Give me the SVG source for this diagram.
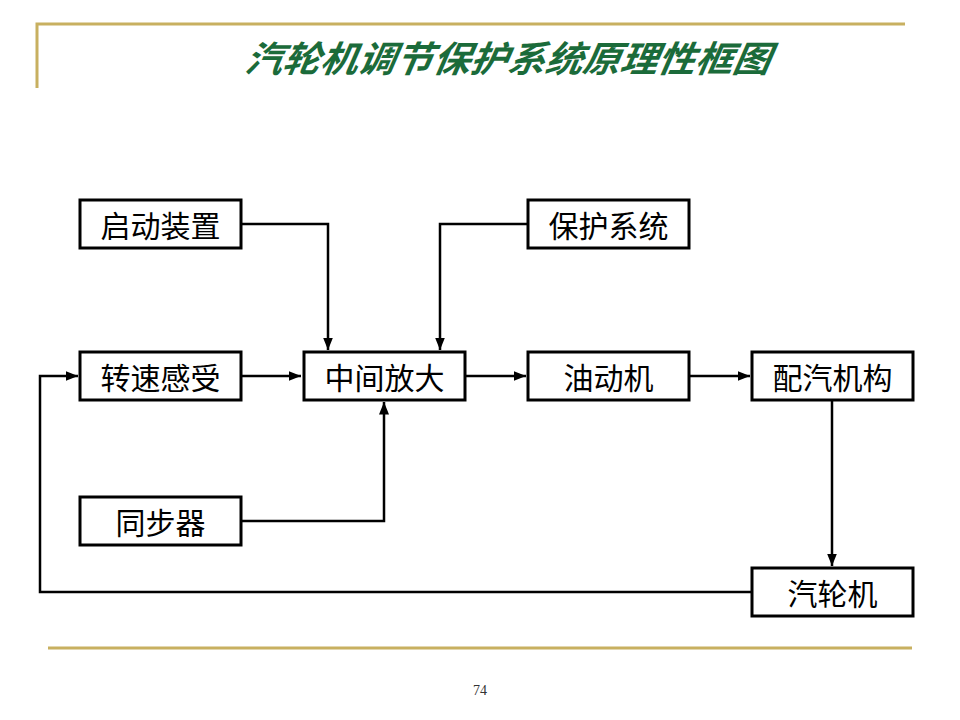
<svg xmlns="http://www.w3.org/2000/svg" width="960" height="720" viewBox="0 0 960 720">
<defs>
<style>
.box rect{fill:#fff;stroke:#000;stroke-width:3}
.box text{font-family:"Noto Sans CJK SC","Noto Sans",sans-serif;font-size:30px;fill:#000;text-anchor:middle;dominant-baseline:central}
.conn path{fill:none;stroke:#000;stroke-width:2.5}
.rule{stroke:#C8B060;stroke-width:3;fill:none}
</style>
<marker id="arr" viewBox="0 0 10 10" refX="10" refY="5" markerWidth="5" markerHeight="5" markerUnits="strokeWidth" orient="auto">
<path d="M0,1 L10,5 L0,9 Z" fill="#000"/>
</marker>
</defs>
<rect width="960" height="720" fill="#fff"/>
<path class="rule" d="M37,88 V24 H905"/>
<path class="rule" d="M48,648 H912"/>
<text x="507" y="72" font-family="'Noto Sans CJK SC',sans-serif" font-size="36" font-weight="bold" font-style="italic" fill="#1B6B3A" text-anchor="middle" textLength="525" lengthAdjust="spacingAndGlyphs" transform="skewX(-10) translate(12,0)">汽轮机调节保护系统原理性框图</text>
<g class="conn">
<path d="M241,224 H328 V350" marker-end="url(#arr)"/>
<path d="M528,224 H440 V350" marker-end="url(#arr)"/>
<path d="M241,376 H301" marker-end="url(#arr)"/>
<path d="M465,376 H526" marker-end="url(#arr)"/>
<path d="M689,376 H750" marker-end="url(#arr)"/>
<path d="M241,521 H384 V402" marker-end="url(#arr)"/>
<path d="M832,400 V566" marker-end="url(#arr)"/>
<path d="M752,592 H40 V376 H78" marker-end="url(#arr)"/>
</g>
<g id="qidong" class="box"><rect x="80" y="200" width="161" height="48"/><text x="160.5" y="224">启动装置</text></g>
<g id="baohu" class="box"><rect x="528" y="200" width="161" height="48"/><text x="608.5" y="224">保护系统</text></g>
<g id="zhuansu" class="box"><rect x="80" y="352" width="161" height="48"/><text x="160.5" y="376">转速感受</text></g>
<g id="zhongjian" class="box"><rect x="304" y="352" width="161" height="48"/><text x="384.5" y="376">中间放大</text></g>
<g id="youdong" class="box"><rect x="528" y="352" width="161" height="48"/><text x="608.5" y="376">油动机</text></g>
<g id="peiqi" class="box"><rect x="752" y="352" width="161" height="48"/><text x="832.5" y="376">配汽机构</text></g>
<g id="tongbu" class="box"><rect x="80" y="497" width="161" height="48"/><text x="160.5" y="521">同步器</text></g>
<g id="qilun" class="box"><rect x="752" y="568" width="161" height="48"/><text x="832.5" y="592">汽轮机</text></g>
<text x="480" y="695" font-family="'Liberation Serif',serif" font-size="14" fill="#333" text-anchor="middle">74</text>
</svg>
